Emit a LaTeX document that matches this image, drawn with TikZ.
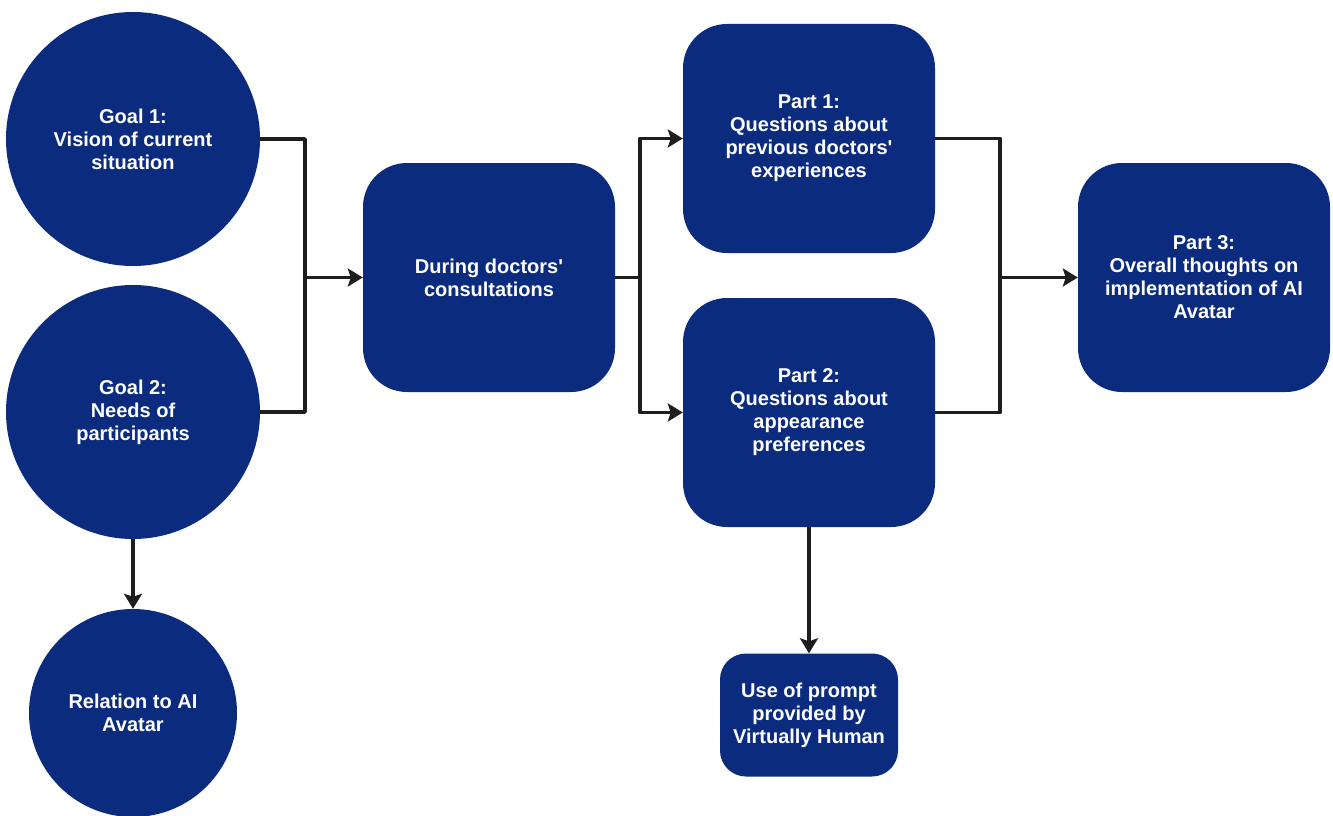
\documentclass[tikz,border=0pt]{standalone}
\usepackage{fontspec}
\setmainfont{Liberation Sans}[Ligatures=TeXOff]
\usetikzlibrary{arrows.meta}
\definecolor{navy}{HTML}{0B2C7E}
\definecolor{wire}{HTML}{1E1E1E}
\begin{document}
\begin{tikzpicture}[x=1pt,y=-1pt,
  every node/.style={font=\bfseries\fontsize{20}{23}\selectfont, text=white, align=center, inner sep=0pt},
  goal/.style={circle, fill=navy, minimum size=#1},
  stage/.style={rectangle, fill=navy, rounded corners=44pt, minimum width=252pt, minimum height=229pt},
  smallstage/.style={rectangle, fill=navy, rounded corners=26pt, minimum width=178pt, minimum height=123pt},
  link/.style={draw=wire, line width=3.6pt, line join=round},
  arr/.style={link, -{Stealth[length=15pt,width=18pt,inset=3pt]}}]
\useasboundingbox (0,0) rectangle (1333,816);
\fill[white] (0,0) rectangle (1333,816);

% goals (left column)
\node[goal=254pt] (g1) at (133,139) {Goal 1:\\Vision of current\\situation};
\node[goal=254pt] (g2) at (133,412) {Goal 2:\\Needs of\\participants};
\node[goal=208pt] (g3) at (133,713) {Relation to AI\\Avatar};

% interview stages
\node[stage] (cons) at (489,277.5) {During doctors'\\consultations};
\node[stage] (p1) at (809,138.5) {Part 1:\\Questions about\\previous doctors'\\experiences};
\node[stage] (p2) at (809,412.5) {Part 2:\\Questions about\\appearance\\preferences};
\node[stage] (p3) at (1204,277.5) {Part 3:\\Overall thoughts on\\implementation of AI\\Avatar};
\node[smallstage] (pr) at (809,715) {Use of prompt\\provided by\\Virtually Human};

% junction points
\coordinate (j1) at (305,277.5);
\coordinate (j2) at (640,277.5);
\coordinate (j3) at (1000,277.5);

% goals merge into the consultation stage
\draw[link] (g1.east) -| (j1);
\draw[link] (g2.east) -| (j1);
\draw[arr] (j1) -- (cons.west);

% consultation splits into parts 1 and 2
\draw[link] (cons.east) -- (j2);
\draw[arr] (j2) |- (p1.west);
\draw[arr] (j2) |- (p2.west);

% parts 1 and 2 merge into part 3
\draw[link] (p1.east) -| (j3);
\draw[link] (p2.east) -| (j3);
\draw[arr] (j3) -- (p3.west);

% downward links
\draw[arr] (g2.south) -- (g3.north);
\draw[arr] (p2.south) -- (pr.north);
\end{tikzpicture}
\end{document}
